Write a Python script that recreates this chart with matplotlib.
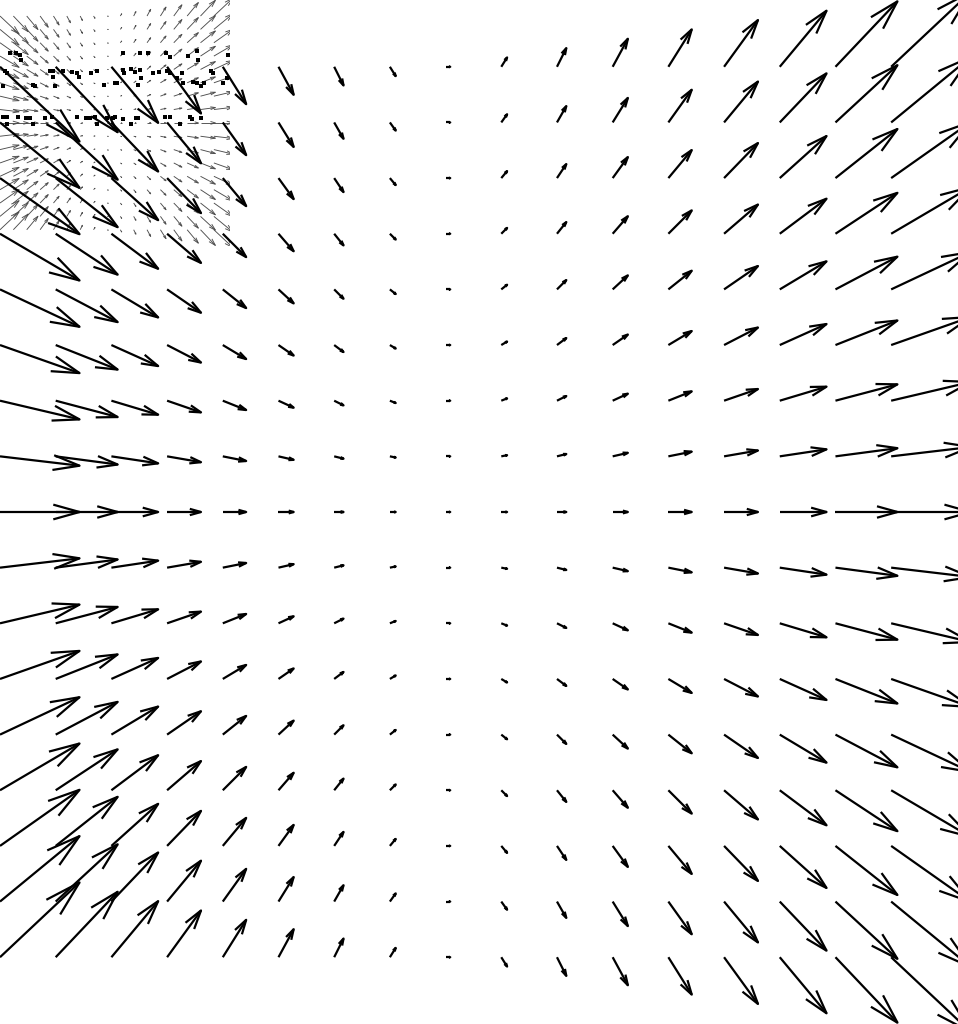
import numpy as np
import matplotlib
matplotlib.use('Agg')
import matplotlib.pyplot as plt
from matplotlib.collections import LineCollection


# grid of the field (tails of the arrows)
xs = [-4, -3.5, -3, -2.5, -2, -1.5, -1, -0.5, 0, 0.5, 1, 1.5, 2, 2.5, 3, 3.5, 4]
ys = [4, 3.5, 3, 2.5, 2, 1.5, 1, 0.5, 0, -0.5, -1, -1.5, -2, -2.5, -3, -3.5, -4]

# horizontal component, the same down every column
u_col = [17, 13.25, 10, 7.25, 5, 3.25, 2, 1.25, 1, 1.25, 2, 3.25, 5, 7.25, 10, 13.25, 17]

# vertical component, one row per y (top to bottom)
v_rows = [
    [-16, -14, -12, -10, -8, -6, -4, -2, 0, 2, 4, 6, 8, 10, 12, 14, 16],
    [-14, -12.25, -10.5, -8.75, -7, -5.25, -3.5, -1.75, 0, 1.75, 3.5, 5.25, 7, 8.75, 10.5, 12.25, 14],
    [-12, -10.5, -9, -7.5, -6, -4.5, -3, -1.5, 0, 1.5, 3, 4.5, 6, 7.5, 9, 10.5, 12],
    [-10, -8.75, -7.5, -6.25, -5, -3.75, -2.5, -1.25, 0, 1.25, 2.5, 3.75, 5, 6.25, 7.5, 8.75, 10],
    [-8, -7, -6, -5, -4, -3, -2, -1, 0, 1, 2, 3, 4, 5, 6, 7, 8],
    [-6, -5.25, -4.5, -3.75, -3, -2.25, -1.5, -0.75, 0, 0.75, 1.5, 2.25, 3, 3.75, 4.5, 5.25, 6],
    [-4, -3.5, -3, -2.5, -2, -1.5, -1, -0.5, 0, 0.5, 1, 1.5, 2, 2.5, 3, 3.5, 4],
    [-2, -1.75, -1.5, -1.25, -1, -0.75, -0.5, -0.25, 0, 0.25, 0.5, 0.75, 1, 1.25, 1.5, 1.75, 2],
    [0, 0, 0, 0, 0, 0, 0, 0, 0, 0, 0, 0, 0, 0, 0, 0, 0],
    [2, 1.75, 1.5, 1.25, 1, 0.75, 0.5, 0.25, 0, -0.25, -0.5, -0.75, -1, -1.25, -1.5, -1.75, -2],
    [4, 3.5, 3, 2.5, 2, 1.5, 1, 0.5, 0, -0.5, -1, -1.5, -2, -2.5, -3, -3.5, -4],
    [6, 5.25, 4.5, 3.75, 3, 2.25, 1.5, 0.75, 0, -0.75, -1.5, -2.25, -3, -3.75, -4.5, -5.25, -6],
    [8, 7, 6, 5, 4, 3, 2, 1, 0, -1, -2, -3, -4, -5, -6, -7, -8],
    [10, 8.75, 7.5, 6.25, 5, 3.75, 2.5, 1.25, 0, -1.25, -2.5, -3.75, -5, -6.25, -7.5, -8.75, -10],
    [12, 10.5, 9, 7.5, 6, 4.5, 3, 1.5, 0, -1.5, -3, -4.5, -6, -7.5, -9, -10.5, -12],
    [14, 12.25, 10.5, 8.75, 7, 5.25, 3.5, 1.75, 0, -1.75, -3.5, -5.25, -7, -8.75, -10.5, -12.25, -14],
    [16, 14, 12, 10, 8, 6, 4, 2, 0, -2, -4, -6, -8, -10, -12, -14, -16],
]

# black specks over the thumbnail
speck_x = [-3.91, -3.86, -3.82, -3.81, -2.90, -2.74, -2.67, -2.51, -2.47, -2.31, -2.23, -2.22, -1.95,
           -3.955, -3.94, -3.55, -3.52, -3.52, -3.43, -3.35, -3.31, -3.29, -3.18, -3.13, -3.07, -2.97,
           -2.95, -2.90, -2.89, -2.82, -2.79, -2.74, -2.73, -2.76, -2.63, -2.57, -2.50, -2.47, -2.37,
           -2.41, -2.36, -2.27, -2.23, -2.20, -2.17, -2.11, -2.09, -2.00, -1.96, -3.70, -3.69, -3.97, -3.51,
           -3.97, -3.94, -3.94, -3.84, -3.77, -3.73, -3.70, -3.60, -3.53, -3.31, -3.23, -3.19, -3.15,
           -3.13, -3.04, -2.99, -2.97, -2.90, -2.82, -2.78, -2.76, -2.52, -2.47, -2.38, -2.29, -2.20, -2.28]
speck_y = [4.12, 4.12, 4.11, 4.06, 4.12, 4.12, 4.12, 4.12, 4.09, 4.10, 4.14, 4.06, 4.11,
           3.96, 3.94, 3.96, 3.96, 3.91, 3.96, 3.95, 3.94, 3.91, 3.94, 3.96, 3.84, 3.85,
           3.85, 3.97, 3.94, 3.98, 3.95, 3.97, 3.90, 3.84, 3.94, 3.95, 3.96, 3.94, 3.94,
           3.90, 3.85, 3.86, 3.85, 3.83, 3.85, 3.96, 3.94, 3.85, 3.90, 3.84, 3.83, 3.83, 3.83,
           3.55, 3.55, 3.49, 3.55, 3.54, 3.54, 3.49, 3.54, 3.55, 3.55, 3.54, 3.54, 3.55,
           3.49, 3.54, 3.54, 3.55, 3.53, 3.49, 3.54, 3.54, 3.55, 3.55, 3.49, 3.55, 3.54, 3.53]

scale = 0.042
alpha, beta = 0.33, 0.28

X, Y = np.meshgrid(xs, ys)
U = np.tile(u_col, (len(ys), 1)) * scale
V = np.array(v_rows) * scale


def arrow_segments(X, Y, U, V):
    segs = []
    for x, y, du, dv in zip(X.ravel(), Y.ravel(), U.ravel(), V.ravel()):
        tx, ty = x + du, y + dv
        segs.append([(x, y), (tx, ty)])
        b1 = (tx - alpha * (du + beta * dv), ty - alpha * (dv - beta * du))
        b2 = (tx - alpha * (du - beta * dv), ty - alpha * (dv + beta * du))
        segs.append([b1, (tx, ty), b2])
    return segs


fig = plt.figure(figsize=(9.58, 10.24), dpi=100)

# small copy of the whole field in the top left corner
ax_in = fig.add_axes([0, 1 - 0.24, 0.24, 0.24])
ax_in.add_collection(LineCollection(arrow_segments(X, Y, U, V), colors='0.3', linewidths=0.65))
ax_in.set_xlim(-4.0, 4.6)
ax_in.set_ylim(-4.6, 4.6)
ax_in.axis('off')

ax = fig.add_axes([0, 0, 1, 1])
ax.patch.set_alpha(0)
ax.scatter(speck_x, speck_y, marker='s', s=7, color='black', linewidths=0, zorder=1)
ax.add_collection(LineCollection(arrow_segments(X, Y, U, V), colors='black', linewidths=1.6, zorder=2))
ax.set_xlim(-4.0, 4.6)
ax.set_ylim(-4.6, 4.6)
ax.axis('off')

fig.savefig('out.png', dpi=100)
